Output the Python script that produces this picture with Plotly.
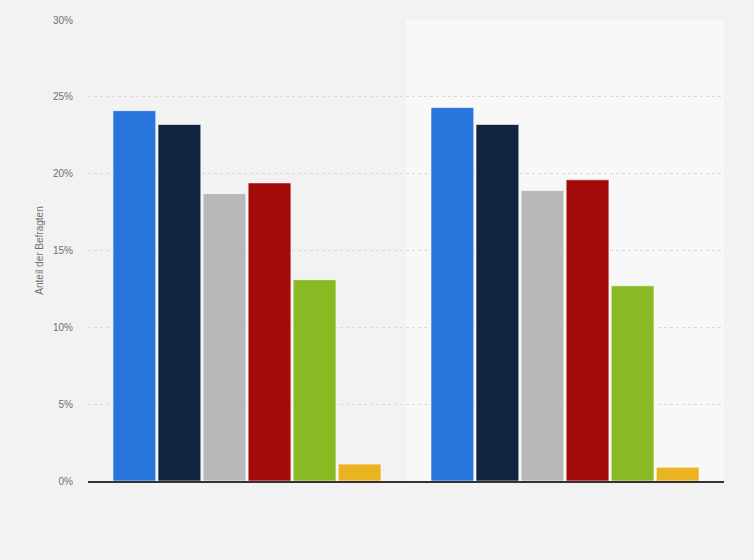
import plotly.graph_objects as go

# Zwei Gruppen, sechs Antwortkategorien (Werte in %)
gruppen = ["Gruppe 1", "Gruppe 2"]
serien = ["Antwort 1", "Antwort 2", "Antwort 3", "Antwort 4", "Antwort 5", "Antwort 6"]
werte = [
    [24.1, 24.3],
    [23.2, 23.2],
    [18.7, 18.9],
    [19.4, 19.6],
    [13.1, 12.7],
    [1.1, 0.9],
]
y_ticks = [0, 5, 10, 15, 20, 25, 30]
y_ticktext = ["0%", "5%", "10%", "15%", "20%", "25%", "30%"]

farben = ["#2876dd", "#10253d", "#b8b8b8", "#a30b0b", "#89b923", "#e9b321"]

fig = go.Figure()
for name, vals, col in zip(serien, werte, farben):
    fig.add_trace(go.Bar(
        x=gruppen,
        y=vals,
        name=name,
        marker=dict(color=col, line=dict(color="rgba(255,255,255,0.6)", width=1)),
        hovertemplate="%{y:.1f}%<extra></extra>",
    ))

# hellerer Hintergrund für die zweite Gruppe
fig.add_shape(type="rect", xref="x domain", yref="y domain",
              x0=0.5, x1=1, y0=0, y1=1,
              fillcolor="#f8f8f8", line=dict(width=0), layer="below")

fig.update_layout(
    width=754, height=560,
    barmode="group",
    bargap=0.15,
    bargroupgap=0.05,
    showlegend=False,
    paper_bgcolor="#f2f2f2",
    plot_bgcolor="#f2f2f2",
    margin=dict(l=88, r=30, t=20, b=79),
    font=dict(family="Liberation Sans, Arial", size=10, color="#707070"),
    xaxis=dict(showticklabels=False, showgrid=False, zeroline=False,
               showline=True, linecolor="#333333", linewidth=1.5),
    yaxis=dict(range=[0, 30], tickvals=y_ticks, ticktext=y_ticktext,
               showgrid=True, gridcolor="#dadada", griddash="dot", gridwidth=1,
               zeroline=False, ticks="", ticklabelstandoff=14,
               tickfont=dict(size=10, color="#707070"),
               title=dict(text="Anteil der Befragten", standoff=7,
                          font=dict(size=10, color="#707070"))),
)

# Seitenrand entfernen, damit die Grafik bündig sitzt
fig.write_html("out.html", config={"displayModeBar": False},
               post_script="document.body.style.margin='0';document.body.style.background='#f2f2f2';")
